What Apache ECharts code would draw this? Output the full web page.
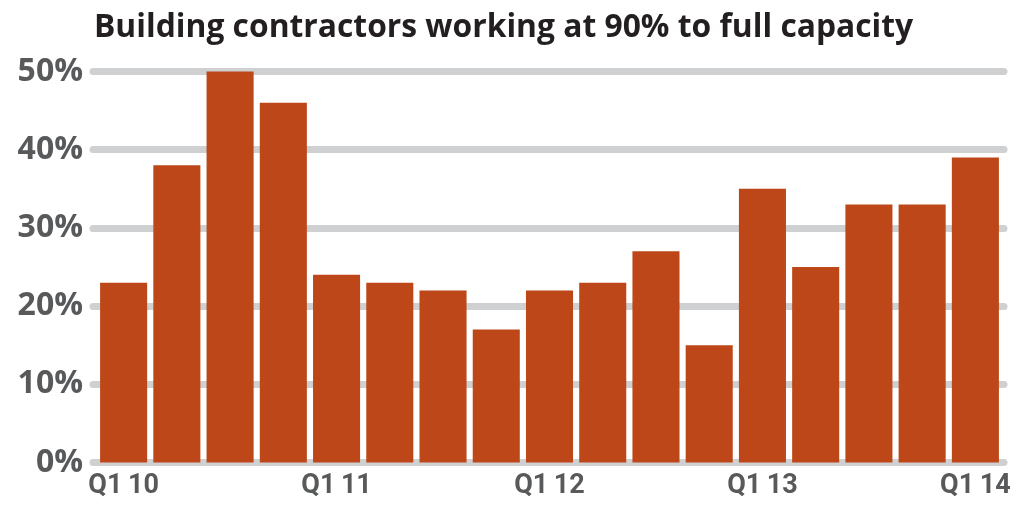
<!DOCTYPE html>
<html>
<head>
<meta charset="utf-8">
<script src="https://cdn.jsdelivr.net/npm/echarts@6/dist/echarts.min.js"></script>
<style>
  html, body { margin: 0; padding: 0; background: #fff; }
  #chart { width: 1024px; height: 510px; }
</style>
</head>
<body>
<div id="chart"></div>
<script>
// Quarterly share of building contractors at 90%+ capacity, Q1 2010 - Q1 2014
var quarters = ['Q1\u200910', 'Q2 10', 'Q3 10', 'Q4 10',
                'Q1\u200911', 'Q2 11', 'Q3 11', 'Q4 11',
                'Q1\u200912', 'Q2 12', 'Q3 12', 'Q4 12',
                'Q1\u200913', 'Q2 13', 'Q3 13', 'Q4 13',
                'Q1\u200914'];
var shares = [23, 38, 50, 46, 24, 23, 22, 17, 22, 23, 27, 15, 35, 25, 33, 33, 39];
var yTicks = [0, 10, 20, 30, 40, 50];

var chartDom = document.getElementById('chart');
var chart = echarts.init(chartDom);

var option = {
  animation: false,
  title: {
    text: 'Building contractors working at 90% to full capacity',
    left: 89,
    top: 7,
    textStyle: {
      fontFamily: 'Open Sans',
      fontWeight: 'bold',
      fontSize: 31.8,
      color: '#231f20'
    }
  },
  grid: [
    // gridlines grid, a little wider than the bars
    { left: 93, right: 20, top: 71.5, bottom: 47.5 },
    // bars grid
    { left: 97, right: 22, top: 71.5, bottom: 47.5 }
  ],
  xAxis: [
    {
      gridIndex: 0,
      type: 'value',
      show: false
    },
    {
      gridIndex: 1,
      type: 'category',
      data: quarters,
      axisLine: { show: false },
      axisTick: { show: false },
      axisLabel: {
        interval: 3,
        fontFamily: 'Roboto',
        fontWeight: 'bold',
        fontSize: 27,
        margin: 10,
        color: '#58595b'
      }
    }
  ],
  yAxis: [
    {
      gridIndex: 0,
      type: 'value',
      min: yTicks[0],
      max: yTicks[yTicks.length - 1],
      interval: 10,
      axisLine: { show: false },
      axisTick: { show: false },
      axisLabel: {
        fontFamily: 'Open Sans',
        fontWeight: 'bold',
        fontSize: 32,
        margin: 10,
        color: '#58595b',
        formatter: '{value}%'
      },
      splitLine: {
        lineStyle: { color: '#cfd0d2', width: 7, cap: 'round' }
      }
    },
    {
      gridIndex: 1,
      type: 'value',
      min: yTicks[0],
      max: yTicks[yTicks.length - 1],
      interval: 10,
      show: false,
      splitLine: { show: false }
    }
  ],
  series: [
    {
      type: 'bar',
      xAxisIndex: 1,
      yAxisIndex: 1,
      data: shares,
      barCategoryGap: '11.6%',
      itemStyle: { color: '#bd4719' }
    }
  ]
};

option && chart.setOption(option);
</script>
</body>
</html>
